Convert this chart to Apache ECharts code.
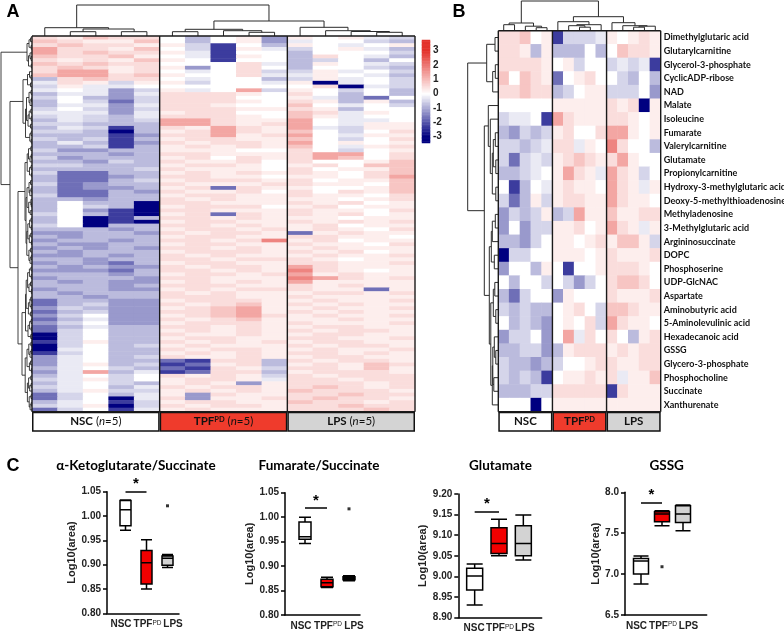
<!DOCTYPE html>
<html>
<head>
<meta charset="utf-8">
<script src="https://cdn.jsdelivr.net/npm/echarts@6/dist/echarts.min.js"></script>
<style>
  html, body { margin: 0; background: #fff; }
  #chart { width: 784px; height: 633px; }
</style>
</head>
<body>
<div id="chart"></div>
<script>
// level key for the heatmap strings: a = -3 (navy) ... o = 0 (white) ... v = +3 (red)
const levelKey = 'abcdefgopqrstuv';
const levelValues = [-3, -2.3, -1.7, -1.2, -0.8, -0.5, -0.25, 0, 0.25, 0.5, 0.85, 1.3, 1.8, 2.4, 3];

const sampleGroups = ['NSC', 'TPF', 'LPS'];
const groupSup = ['', 'PD', ''];
const groupN = [5, 5, 5];

// panel A: z-scores, one string per metabolite row, 5 NSC | 5 TPF | 5 LPS
const heatARows = [
  'qprqq oeopd popgf', 'rqppr oeopd goofe', 'qrqqp pfboe pogop', 'sqqpr ofbpg fopge',
  'sqrqq pgboo eooof', 'rqqrp ogbpo eqoge', 'qpqpr poboo efoeo', 'rqrqq oooqg epogf',
  'qrqpq pdoqo eoofe', 'qsspq ogoqf fpgof', 'rssqr pooqg gpoge', 'eqrqq ogooe fpgof',
  'gqpfp pfoog pagof', 'fpggo ooooo oqagf', 'gogdf pgosf pofoe', 'eggdg qqqpo qoeoe',
  'foedf qqqoo pgeco', 'eofcf qqqpo qpepe', 'eggdg qqpoo rogof', 'fofdf qqqpp qpeoo',
  'gggdg pqqoo rqgpo', 'fgfeg qqqpo rpgoo', 'egfef ssqpp soggo', 'ffeee ssqpq sogpp',
  'egfbe qpsqp sgfpp', 'ffeae pqsqp rofoq', 'eeebd qqspq sogpp', 'fefbe pqqpp rofoq',
  'egebd qpqqp sopop', 'eefbe pqpqp rogpq', 'fddee pppoo qofop', 'eeede qqppp qssoq',
  'fdeee pqoqp qsroq', 'eedfe qppqo qoopr', 'ffeee pqqpo pqorr', 'eeeef qpppo qoppr',
  'fccee pqpqp qpoqr', 'eccde qqppo ppoqs', 'eccef pqqqp qoppr', 'fcdee qpppq qppor',
  'ecdde pqcqp poopr', 'ecced qppqo qoqpr', 'fccee pqqpp qppoq', 'eedee qpqpp ppopq',
  'eoeea qqppp qpqop', 'eofea pqqqo pqopp', 'eodba qqppp qppoq', 'foeba pqcqp qpqop',
  'eoabe qqpqp ppopp', 'eoaba pqqpp qpqpq', 'foaee qqpqp pqopp', 'eeede pqqpq pqpoq',
  'ddeed qpqqp cpqpp', 'edeee pqqpp qqppo', 'deede qqpqt pqopp', 'eddee pqqpp qppoq',
  'deded qqpqp pqppp', 'edeee pqqqp qpqop', 'ddede qpqpp pqppq', 'eedee qqpqq qpopp',
  'dedce pqqpp qqppq', 'ededd qpqqp sqppp', 'dddce qqpqp tqpop', 'eeede pqqpq spqpp',
  'deeed qqppp tsqpq', 'ededd pqpqp spppp', 'eeede qqqpp qpqpp', 'deedd pqpqq qppcp',
  'edeee qpqpp pqqpq', 'eedee qqqpp qpppp', 'ceedd pqqqp pqppq', 'cefdd qpqrp qpqpp',
  'dfedd pqrsp pqppq', 'cefdd qqrsp qpqpp', 'dfodd pqrsq pqppq', 'cegdd qpqrp ppqpp',
  'dfodd pqqqp qpppq', 'cegee qqpqp pqqpp', 'cfoee pqpqp qpqqp', 'afoee qppqp pqqpp',
  'afoee pqqpp qqppq', 'bfpee qpqpq pqqpp', 'afoef pqppp qpqqp', 'agoee qpqqp pqppq',
  'bfoee pqpqp qqpqp', 'dgoef qppqp pqqpp', 'dgoee cbqqe qpqqp', 'dgpef bcpqe pqprq',
  'egofe cbqpf qqprp', 'dgseg bcqqe pqqqp', 'egofo qpqpf qpqqq', 'fgpfo pqqpg qqpqq',
  'egofe pqpdp qqqpq', 'fgoeg qpqqp qrqpq', 'egpff pqpqp rqqqp', 'cfoeg pdqpp qqrqq',
  'cfoag qdppq qrqqp', 'egobf pqqpp rqqpq', 'fgpaf qpqqp qqrqq', 'cfobg pqppp qqqrq'
];
// merge heights between neighbouring leaves (ordered dendrograms)
const heatAColGaps = [8.3, 4.3, 7, 4.3, 31, 4.3, 6.7, 5.3, 3.7, 15, 8.7, 5.3, 4.5, 3.7];
const heatARowGaps = [
  1.5, 3, 0.8, 5, 2, 1, 3.5, 0.7, 31,
  2.5, 1, 4.5, 1.5, 9,
  1, 3, 0.6, 2, 5.5, 1.2, 2.8, 0.9, 4, 1.5, 6.5, 1, 2.2, 0.8, 22,
  1.2, 3.5, 0.7, 2, 4.8, 1, 2.5, 0.6, 7, 1.5, 3, 0.9, 2.2, 5, 1.1, 0.7,
  3.3, 1.8, 6, 1, 2.4, 0.8, 4.2, 1.3, 2.7, 0.6, 5.2, 1.4, 3.1, 0.9, 2, 14,
  1, 2.6, 0.8, 4.4, 1.5, 3, 0.7, 5.8, 1.2, 2.1, 0.9, 3.6, 1.6, 6.5, 1, 2.4, 0.7, 4, 1.3, 10,
  1.1, 3.2, 0.8, 2, 5, 1.4, 2.6, 0.6, 6.8, 1.2, 3.4, 0.9, 2.3, 4.6, 1, 2.8, 0.7, 1.9
];

// panel B
const metabolites = [
  'Dimethylglutaric acid', 'Glutarylcarnitine', 'Glycerol-3-phosphate', 'CyclicADP-ribose', 'NAD',
  'Malate', 'Isoleucine', 'Fumarate', 'Valerylcarnitine', 'Glutamate', 'Propionylcarnitine',
  'Hydroxy-3-methylglutaric acid', 'Deoxy-5-methylthioadenosine', 'Methyladenosine',
  '3-Methylglutaric acid', 'Argininosuccinate', 'DOPC', 'Phosphoserine', 'UDP-GlcNAC',
  'Aspartate', 'Aminobutyric acid', '5-Aminolevulinic acid', 'Hexadecanoic acid', 'GSSG',
  'Glycero-3-phosphate', 'Phosphocholine', 'Succinate', 'Xanthurenate'
];
const heatBRows = [
  'qqrop bfffg popqp', 'qqpep eeeoe orqqp', 'qqqqp opfoo fgfgb', 'rorqp copqo ofeoe',
  'qqrqq efopp fffod', 'ooooo ppppp qpqap', 'fggob sqppp qqpop', 'edfef pqooq sspop',
  'ffefg qqgpo tqooe', 'fcfgf pqrqp qspoo', 'eefgo psqpg sqpfo', 'obeog pqppo sqpgp',
  'fcepf pqqpp sqppo', 'dfefp efspp rppqq', 'dodff ppqop sqpgp', 'eedfo ppopq prrpf',
  'affoo pppop qpppq', 'dooep oboop qqqpo', 'oeoof ofdfo qrrqo', 'ecfoo dpooo qpppq',
  'fefee opqof rrqpp', 'oefed opoqf sqppo', 'dffod osgqo qoepq', 'eeffd epqqq pqpqq',
  'feede foopq qppqq', 'fefeb oppqp qgppr', 'eeeff qqqqq bqppp', 'oooao ppppp ppppp'
];
const heatBColGaps = [6, 7.7, 4.5, 3, 29.7, 9, 5, 3.5, 6, 14, 8, 5, 3.5, 4.5];
const heatBRowGaps = [
  3.3, 11.6, 3, 5.6, 30.6, 10, 8, 3, 5, 2.5, 6, 2.5, 14,
  3, 6, 7, 4, 9, 3.5, 5, 2.5, 7.5, 4, 2.5, 5.5, 4.5, 6
];

const colorbarTicks = [3, 2, 1, 0, -1, -2, -3];

// panel C: [min, Q1, median, Q3, max] for NSC, TPF, LPS
const boxTitles = ['α-Ketoglutarate/Succinate', 'Fumarate/Succinate', 'Glutamate', 'GSSG'];
const ketoSuccinate = [[0.971, 0.980, 1.013, 1.032, 1.033], [0.850, 0.860, 0.904, 0.929, 0.951], [0.894, 0.899, 0.913, 0.918, 0.921]];
const fumSuccinate = [[0.946, 0.955, 0.960, 0.990, 1.000], [0.856, 0.858, 0.866, 0.873, 0.877], [0.870, 0.872, 0.875, 0.878, 0.880]];
const glutamate = [[8.931, 8.967, 9.001, 9.020, 9.030], [9.050, 9.056, 9.080, 9.118, 9.139], [9.040, 9.050, 9.080, 9.123, 9.149]];
const gssg = [[6.88, 7.00, 7.16, 7.19, 7.22], [7.59, 7.64, 7.735, 7.763, 7.775], [7.53, 7.63, 7.735, 7.837, 7.845]];
const boxOutliers = [[['LPS', 1.021]], [['LPS', 1.017]], [], [['TPF', 7.09]]];
const sigBarY = [1.05, 1.019, 9.157, 7.873];
const yTicks = [[0.80, 0.85, 0.90, 0.95, 1.00, 1.05], [0.80, 0.85, 0.90, 0.95, 1.00, 1.05],
  [8.90, 8.95, 9.00, 9.05, 9.10, 9.15, 9.20], [6.5, 7.0, 7.5, 8.0]];

const RED = '#e3322b';
const NAVY = '#000080';
const groupFill = ['#ffffff', '#ef3b2c', '#d4d4d4'];
const boxFill = ['#ffffff', '#f20000', '#d3d3d3'];
const ARIAL = 'Arial, "Liberation Sans", sans-serif';
const CAL = 'Lato, "Open Sans", sans-serif';

const chart = echarts.init(document.getElementById('chart'));

function parseRows(rows) {
  const out = [];
  rows.forEach((row, r) => {
    row.replace(/ /g, '').split('').forEach((ch, c) => {
      out.push([c, r, levelValues[levelKey.indexOf(ch)]]);
    });
  });
  return out;
}

// ordered dendrogram from neighbour merge heights (split at the highest gap)
function dendroSegments(gaps) {
  const segs = [];
  function build(lo, hi) {
    if (lo === hi) return { pos: lo + 0.5, h: 0 };
    let k = lo;
    for (let i = lo; i < hi; i++) if (gaps[i] > gaps[k]) k = i;
    const a = build(lo, k), b = build(k + 1, hi);
    segs.push([a.pos, a.h, b.pos, b.h, gaps[k]]);
    return { pos: (a.pos + b.pos) / 2, h: gaps[k] };
  }
  build(0, gaps.length);
  return segs;
}

function frameSegments(nCols, nRows) {
  const segs = [[0, 0, nCols, 0], [0, nRows, nCols, nRows]];
  let x = 0;
  segs.push([0, 0, 0, nRows]);
  groupN.forEach(n => { x += n; segs.push([x, 0, x, nRows]); });
  return segs;
}

const grid = [], xAxis = [], yAxis = [], series = [];
function addGrid(rect, x, y) {
  grid.push(Object.assign({ containLabel: false, outerBoundsMode: 'none' }, rect));
  const gi = grid.length - 1;
  xAxis.push(Object.assign({ gridIndex: gi }, x));
  yAxis.push(Object.assign({ gridIndex: gi }, y));
  return gi;
}
const hiddenVal = (min, max, inverse) => ({ type: 'value', min, max, inverse: !!inverse, show: false });
const hiddenCat = (data, inverse) => ({ type: 'category', data, inverse: !!inverse, show: false });

function dendroRender(horizontal, width) {
  return function (params, api) {
    const pt = (p, h) => horizontal ? api.coord([h, p]) : api.coord([p, h]);
    const lp = api.value(0), lh = api.value(1), rp = api.value(2), rh = api.value(3), h = api.value(4);
    return {
      type: 'polyline',
      shape: { points: [pt(lp, lh), pt(lp, h), pt(rp, h), pt(rp, rh)] },
      style: { stroke: '#2a2a2a', lineWidth: width, fill: null }
    };
  };
}
function segmentRender(params, api) {
  const p1 = api.coord([api.value(0), api.value(1)]);
  const p2 = api.coord([api.value(2), api.value(3)]);
  return { type: 'line', shape: { x1: p1[0], y1: p1[1], x2: p2[0], y2: p2[1] },
    style: { stroke: '#1a1a1a', lineWidth: 1.4 } };
}

const colNames = [];
sampleGroups.forEach((g, gi) => { for (let i = 1; i <= groupN[gi]; i++) colNames.push(g + i); });
const nCols = colNames.length;
const heatSeries = [];

function addHeatPanel(cfg) {
  const nRows = cfg.rows.length;
  const yCat = cfg.rowNames || cfg.rows.map((_, i) => i);
  const yOpt = cfg.rowNames ? {
    type: 'category', data: yCat, inverse: true, position: 'right',
    axisLine: { show: false }, axisTick: { show: false }, splitLine: { show: false },
    axisLabel: { interval: 0, margin: 3, fontSize: 9, fontWeight: 'bold', color: '#111', fontFamily: CAL }
  } : hiddenCat(yCat, true);
  const g = addGrid(cfg.rect, hiddenCat(colNames), yOpt);
  heatSeries.push(series.length);
  series.push({ type: 'heatmap', xAxisIndex: g, yAxisIndex: g, data: parseRows(cfg.rows),
    progressive: 0, silent: true, itemStyle: { borderWidth: 0 } });

  const go = addGrid(cfg.rect, hiddenVal(0, nCols), hiddenVal(0, nRows, true));
  series.push({ type: 'custom', xAxisIndex: go, yAxisIndex: go, z: 5, silent: true,
    data: frameSegments(nCols, nRows), renderItem: segmentRender });

  const colTop = Math.max(...cfg.colGaps);
  const gc = addGrid({ left: cfg.rect.left, width: cfg.rect.width, top: cfg.rect.top - cfg.colH, height: cfg.colH },
    hiddenVal(0, nCols), hiddenVal(0, colTop));
  series.push({ type: 'custom', xAxisIndex: gc, yAxisIndex: gc, silent: true,
    data: dendroSegments(cfg.colGaps), renderItem: dendroRender(false, 1) });

  const gr = addGrid({ left: cfg.rect.left - cfg.rowW, width: cfg.rowW, top: cfg.rect.top, height: cfg.rect.height },
    hiddenVal(0, cfg.rowW, true), hiddenVal(0, nRows, true));
  series.push({ type: 'custom', xAxisIndex: gr, yAxisIndex: gr, silent: true,
    data: dendroSegments(cfg.rowGaps), renderItem: dendroRender(true, cfg.rowLine) });

  const gb = addGrid({ left: cfg.rect.left, width: cfg.rect.width, top: cfg.rect.top + cfg.rect.height, height: 20 },
    hiddenCat(sampleGroups), hiddenVal(0, 1));
  series.push({ type: 'bar', xAxisIndex: gb, yAxisIndex: gb, barWidth: '100%', silent: true,
    data: sampleGroups.map((name, i) => ({ value: 1, itemStyle: { color: groupFill[i] },
      label: { formatter: cfg.groupLabel(i) } })),
    itemStyle: { borderColor: '#111', borderWidth: 1.5 },
    label: { show: true, position: 'inside', color: '#111',
      rich: {
        b: { fontFamily: CAL, fontWeight: 'bold', fontSize: 11.5, color: '#111' },
        r: { fontFamily: CAL, fontSize: 11.5, color: '#111' },
        i: { fontFamily: CAL, fontSize: 11.5, fontStyle: 'italic', color: '#111' },
        s: { fontFamily: CAL, fontWeight: 'bold', fontSize: 7.5, verticalAlign: 'top', color: '#111' }
      } } });
}

addHeatPanel({
  rows: heatARows, colGaps: heatAColGaps, rowGaps: heatARowGaps,
  rect: { left: 32, top: 36, width: 383, height: 375.7 }, colH: 31, rowW: 32, rowLine: 0.9,
  groupLabel: i => '{b|' + sampleGroups[i] + '}' + (groupSup[i] ? '{s|' + groupSup[i] + '}' : '') +
    '{r| (}{i|n}{r|=' + groupN[i] + ')}'
});
addHeatPanel({
  rows: heatBRows, rowNames: metabolites, colGaps: heatBColGaps, rowGaps: heatBRowGaps,
  rect: { left: 498.3, top: 30.7, width: 162.4, height: 381 }, colH: 29.7, rowW: 31.3, rowLine: 1,
  groupLabel: i => '{b|' + sampleGroups[i] + '}' + (groupSup[i] ? '{s|' + groupSup[i] + '}' : '')
});

// colour bar
const barLevels = [];
for (let v = -34; v <= 37; v++) barLevels.push(String(v));
const gcb = addGrid({ left: 422, top: 40, width: 8, height: 103 }, hiddenCat(['z']), {
  type: 'category', data: barLevels, position: 'right',
  axisLine: { show: false }, axisTick: { show: false }, splitLine: { show: false },
  axisLabel: { interval: (i, v) => colorbarTicks.indexOf(Number(v) / 10) >= 0,
    formatter: v => String(Number(v) / 10), margin: 3, fontSize: 10, fontWeight: 'bold',
    color: '#222', fontFamily: ARIAL }
});
heatSeries.push(series.length);
series.push({ type: 'heatmap', xAxisIndex: gcb, yAxisIndex: gcb, silent: true, progressive: 0,
  data: barLevels.map((v, i) => [0, i, Math.max(-3, Math.min(3, Number(v) / 10))]) });

// box plots
const boxData = [ketoSuccinate, fumSuccinate, glutamate, gssg];
const boxLayout = [
  { axisX: 107, top: 491.7, height: 121.6, frameW: 72, boxLeft: 115, boxW: 63, bw: 11, titleX: 136, nameGap: 29, spread: 9 },
  { axisX: 285, top: 492.7, height: 122.3, frameW: 75, boxLeft: 294, boxW: 66, bw: 12, titleX: 319, nameGap: 23, spread: 8 },
  { axisX: 458.3, top: 494, height: 123.7, frameW: 83.4, boxLeft: 462.5, boxW: 73, bw: 16, titleX: 500.5, nameGap: 28, spread: 1 },
  { axisX: 625, top: 492.3, height: 122.7, frameW: 81.7, boxLeft: 630.5, boxW: 63, bw: 15, titleX: 666.7, nameGap: 24, spread: 9 }
];
const graphics = [
  { type: 'text', x: 13, y: 12, style: { text: 'A', font: 'bold 18px ' + ARIAL, fill: '#000', align: 'center', verticalAlign: 'middle' } },
  { type: 'text', x: 459, y: 12, style: { text: 'B', font: 'bold 18px ' + ARIAL, fill: '#000', align: 'center', verticalAlign: 'middle' } },
  { type: 'text', x: 13, y: 466, style: { text: 'C', font: 'bold 18px ' + ARIAL, fill: '#000', align: 'center', verticalAlign: 'middle' } }
];
// x labels sit a little apart from the box centres, as in the figure
function xLabelRich(spread) {
  const base = { fontSize: 10, fontWeight: 'bold', fontFamily: ARIAL, color: '#222' };
  return {
    NSC: Object.assign({ padding: [0, spread, 0, 0] }, base),
    TPF: Object.assign({ padding: [0, 0, 0, 2] }, base),
    LPS: Object.assign({ padding: [0, 0, 0, spread + 2] }, base),
    s: { fontSize: 6.5, fontFamily: ARIAL, color: '#222', verticalAlign: 'top' }
  };
}

boxData.forEach((vals, p) => {
  const L = boxLayout[p];
  const ticks = yTicks[p];
  const min = ticks[0], max = ticks[ticks.length - 1], step = ticks[1] - ticks[0];
  const dec = p === 3 ? 1 : 2;
  const rect = { top: L.top, height: L.height };
  addGrid(Object.assign({ left: L.axisX, width: L.frameW }, rect),
    { type: 'value', min: 0, max: 1, axisLine: { show: true, lineStyle: { color: '#000', width: 1.5 } },
      axisTick: { show: false }, axisLabel: { show: false }, splitLine: { show: false } },
    { type: 'value', min, max, interval: step,
      axisLine: { show: true, lineStyle: { color: '#000', width: 1.5 } },
      axisTick: { show: true, length: 4, lineStyle: { color: '#000', width: 1.5 } },
      axisLabel: { formatter: v => v.toFixed(dec), margin: 6, fontSize: 10, fontWeight: 'bold', color: '#222', fontFamily: ARIAL },
      splitLine: { show: false },
      name: 'Log10(area)', nameLocation: 'middle', nameGap: L.nameGap,
      nameTextStyle: { fontSize: 11, fontWeight: 'bold', color: '#222', fontFamily: ARIAL } });
  const gb = addGrid(Object.assign({ left: L.boxLeft, width: L.boxW }, rect),
    { type: 'category', data: sampleGroups, axisLine: { show: false }, axisTick: { show: false },
      axisLabel: { interval: 0, margin: 6, color: '#222',
        formatter: v => '{' + v + '|' + v + '}' + (groupSup[sampleGroups.indexOf(v)] ? '{s|' + groupSup[sampleGroups.indexOf(v)] + '}' : ''),
        rich: xLabelRich(L.spread) } },
    hiddenVal(min, max));
  series.push({ type: 'boxplot', xAxisIndex: gb, yAxisIndex: gb, silent: true, boxWidth: [L.bw, L.bw],
    data: vals.map((v, i) => ({ value: v, itemStyle: { color: boxFill[i] } })),
    itemStyle: { borderColor: '#000', borderWidth: 1.5 },
    markLine: { silent: true, symbol: 'none', animation: false,
      lineStyle: { color: '#000', width: 1.5, type: 'solid' },
      label: { show: true, position: 'middle', formatter: '*', fontSize: 15, fontWeight: 'bold', color: '#000', distance: 0 },
      data: [[{ coord: ['NSC', sigBarY[p]] }, { coord: ['TPF', sigBarY[p]] }]] } });
  series.push({ type: 'scatter', xAxisIndex: gb, yAxisIndex: gb, silent: true, symbol: 'rect', symbolSize: 3,
    itemStyle: { color: '#000' }, data: boxOutliers[p] });
  graphics.push({ type: 'text', x: L.titleX, y: 466,
    style: { text: boxTitles[p], font: 'bold 13.5px ' + CAL, fill: '#000', align: 'center', verticalAlign: 'middle' } });
});

chart.setOption({
  animation: false,
  backgroundColor: '#fff',
  grid, xAxis, yAxis, series,
  visualMap: { show: false, type: 'continuous', min: -3, max: 3, dimension: 2, seriesIndex: heatSeries,
    inRange: { color: [NAVY, '#ffffff', RED] } },
  graphic: graphics
});
</script>
</body>
</html>
